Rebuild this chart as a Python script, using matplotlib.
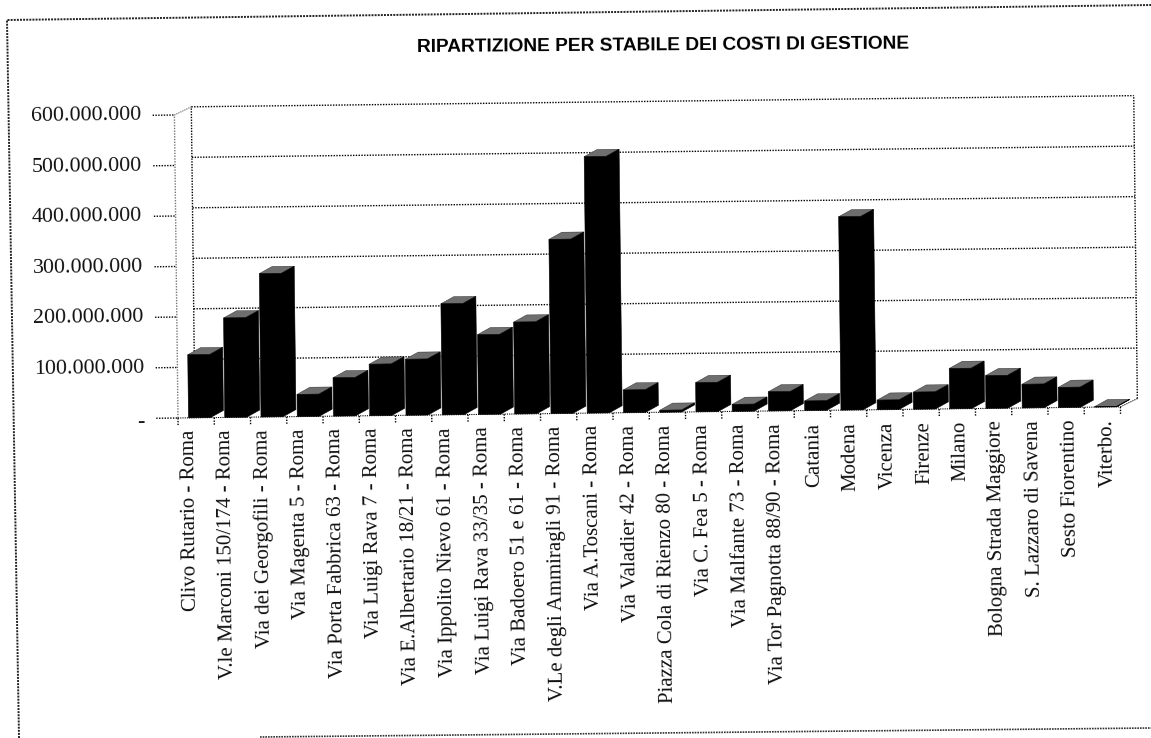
import matplotlib
matplotlib.use("Agg")
import matplotlib.pyplot as plt
from matplotlib.patches import Polygon
from matplotlib.transforms import Affine2D

# ----------------------------------------------------
# Data
# ----------------------------------------------------
stabili = [
    "Clivo Rutario - Roma", "V.le Marconi 150/174 - Roma", "Via dei Georgofili - Roma",
    "Via Magenta 5 - Roma", "Via Porta Fabbrica 63 - Roma", "Via Luigi Rava 7 - Roma",
    "Via E.Albertario 18/21 - Roma", "Via Ippolito Nievo 61 - Roma", "Via Luigi Rava 33/35 - Roma",
    "Via Badoero 51 e 61 - Roma", "V.Le degli Ammiragli 91 - Roma", "Via A.Toscani - Roma",
    "Via Valadier 42 - Roma", "Piazza Cola di Rienzo 80 - Roma", "Via C. Fea 5 - Roma",
    "Via Malfante 73 - Roma", "Via Tor Pagnotta 88/90 - Roma", "Catania", "Modena", "Vicenza",
    "Firenze", "Milano", "Bologna Strada Maggiore", "S. Lazzaro di Savena", "Sesto Fiorentino",
    "Viterbo.",
]
costi = [125, 197, 284, 44, 76, 102, 111, 220, 158, 182, 345, 508, 45, 4, 58, 14, 38, 19,
         383, 19, 34, 80, 65, 47, 40, 1]  # milioni
tick_values = [0, 100, 200, 300, 400, 500, 600]
tick_labels = ["-", "100.000.000", "200.000.000", "300.000.000", "400.000.000", "500.000.000",
               "600.000.000"]
titolo = "RIPARTIZIONE PER STABILE DEI COSTI DI GESTIONE"

W, H = 1151, 738
ROT = 0.68  # the page is slightly rotated in the scan
SLOT = 36.25
X0, Y0 = 178, 418  # chart origin, image pixels
SERIF = "Liberation Serif"

fig = plt.figure(figsize=(W / 100, H / 100), dpi=100)
ax = fig.add_axes([X0 / W, 1 - Y0 / H, SLOT * len(costi) / W, 303 / H])
ax.set_xlim(0, len(costi))
ax.set_ylim(0, 600)
ax.axis("off")

scan = Affine2D().rotate_deg_around(X0, H - Y0, ROT)


def shifted(dx=0, dy=0):
    # data -> pixels, pushed back into the 3D depth, then tilted like the scan
    return ax.transData + Affine2D().translate(dx, dy) + scan


def line(xs, ys, dx=0, dy=0, color="black", lw=1.0):
    ax.plot(xs, ys, color=color, lw=lw, ls=(0, (1, 1)), transform=shifted(dx, dy),
            clip_on=False, zorder=1)


n = len(costi)
WALL_DX, WALL_DY = 17, 8
BAR_DX, BAR_DY = 13, 7

# ----------------------------------------------------
# Walls, gridlines, ticks
# ----------------------------------------------------
for v, lab in zip(tick_values, tick_labels):
    if v > 0:
        line([0, n], [v, v], WALL_DX, WALL_DY)
    line([-0.6, 0], [v, v])
    off = -4 if v == 0 else 0
    ax.text(-0.92, v, lab, family=SERIF, fontsize=15.8, ha="right", va="center", color="#111111",
            rotation=ROT, rotation_mode="anchor", transform=shifted(0, off), clip_on=False)

line([0, 0], [0, 600], color="#777777")
line([0, 0], [0, 600], WALL_DX, WALL_DY)
line([n, n], [0, 600], WALL_DX, WALL_DY)
line([0, n], [0, 0], lw=0.8)
ax.plot([0, 17 / SLOT], [600, 600 + 8 / 0.505], color="#555555", lw=0.8, ls=(0, (1, 1)),
        transform=shifted(), clip_on=False)
ax.plot([n, n + 17 / SLOT], [0, 8 / 0.505], color="black", lw=0.8, ls=(0, (1, 1)),
        transform=shifted(), clip_on=False)
for i in range(n + 1):
    line([i, i], [-14, 0])

# ----------------------------------------------------
# Bars
# ----------------------------------------------------
left, width = 10.5 / SLOT, 22 / SLOT
ddx, ddy = BAR_DX / SLOT, BAR_DY / 0.505
for i, c in enumerate(costi):
    x0, x1 = i + left, i + left + width
    ax.add_patch(Polygon([(x0, c), (x1, c), (x1 + ddx, c + ddy), (x0 + ddx, c + ddy)],
                         facecolor="#6e6e6e", edgecolor="#222222", lw=0.3,
                         transform=shifted(), clip_on=False, zorder=3))
    ax.add_patch(Polygon([(x0, 0), (x1, 0), (x1 + ddx, ddy), (x1 + ddx, c + ddy), (x1, c), (x0, c)],
                         facecolor="black", edgecolor="black", lw=0.4,
                         transform=shifted(), clip_on=False, zorder=4))

# ----------------------------------------------------
# Category labels
# ----------------------------------------------------
for i, nome in enumerate(stabili):
    ax.text((12 + 36.7 * i) / SLOT, -24, nome, family=SERIF, fontsize=15, rotation=90 + ROT,
            ha="center", va="top", color="#111111", transform=shifted(), clip_on=False)

# ----------------------------------------------------
# Title and page frame
# ----------------------------------------------------
page = Affine2D().scale(1, -1).translate(0, H)
fig.text(663, 46, titolo, family="Liberation Sans", fontweight="bold", fontsize=13.75, ha="center",
         va="center", rotation=0.4, transform=page)
frame = plt.Line2D([19, 7, 1151], [738, 20, 5], color="#222222", lw=1.4, ls=(0, (1, 0.6)),
                   transform=page)
bottom = plt.Line2D([260, 1151], [737, 728], color="#333333", lw=1.2, ls=(0, (1, 0.6)),
                    transform=page)
fig.add_artist(frame)
fig.add_artist(bottom)

fig.savefig("out.png", dpi=100)
